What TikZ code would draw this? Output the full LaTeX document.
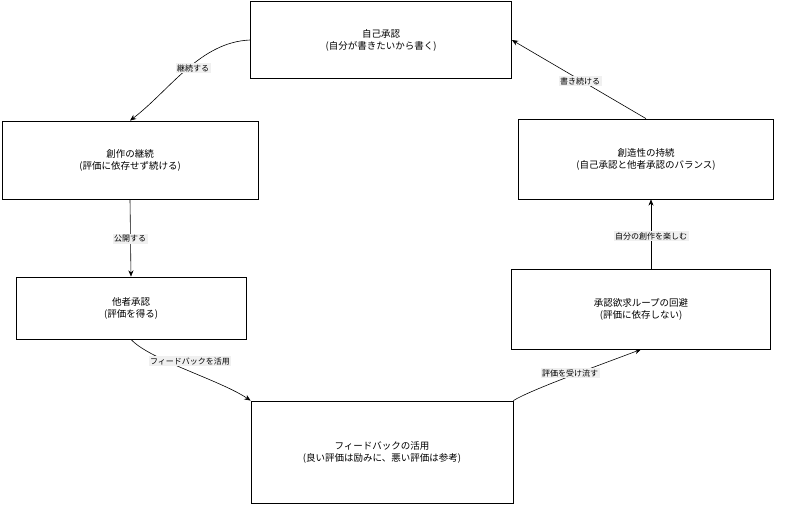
\documentclass[tikz,border=0pt]{standalone}
\usepackage{fontspec}
\setmainfont{Noto Sans CJK JP}
\usetikzlibrary{arrows.meta}
\begin{document}
\begin{tikzpicture}[x=1pt,y=-1pt,
    box/.style={draw, thick, fill=white, align=center, font=\fontsize{9.5}{12}\selectfont},
    lbl/.style={fill=gray!12, inner sep=1.5pt, font=\fontsize{8}{9}\selectfont},
    edge/.style={-{Stealth[length=2.2mm, width=1.8mm]}, semithick}]
        \useasboundingbox (0,0) rectangle (793,515);
        % Draw the boxes
        \node[box, minimum width=261pt, minimum height=77pt] (self) at (381,40) {自己承認\\(自分が書きたいから書く)};
        \node[box, minimum width=256pt, minimum height=78pt] (keep) at (130,160) {創作の継続\\(評価に依存せず続ける)};
        \node[box, minimum width=230pt, minimum height=62pt] (other) at (131,308) {他者承認\\(評価を得る)};
        \node[box, minimum width=262pt, minimum height=102pt] (fb) at (382,452) {フィードバックの活用\\(良い評価は励みに、悪い評価は参考)};
        \node[box, minimum width=259pt, minimum height=80pt] (avoid) at (641,309) {承認欲求ループの回避\\(評価に依存しない)};
        \node[box, minimum width=255pt, minimum height=80pt] (crea) at (646,159) {創造性の持続\\(自己承認と他者承認のバランス)};
        % Draw the connectors
        \draw[edge] (self.west) .. controls (200,42) and (170,90) .. (keep.north);
        \draw[edge] (keep.south) -- (other.north);
        \draw[edge] (other.south) .. controls (150,360) and (220,380) .. (fb.north west);
        \draw[edge] (fb.north east) .. controls (530,390) and (600,365) .. (avoid.south);
        \draw[edge] (avoid.north -| 651,0) -- (crea.south -| 651,0);
        \draw[edge] (crea.north) -- (self.east);
        % Draw the edge labels
        \node[lbl] (l1) at (193,68) {継続する};
        \node[lbl] (l2) at (130,239) {公開する};
        \node[lbl] (l3) at (190,361) {フィードバックを活用};
        \node[lbl] (l4) at (570,373) {評価を受け流す};
        \node[lbl] (l5) at (651,236) {自分の創作を楽しむ};
        \node[lbl] (l6) at (580,81) {書き続ける};
    \end{tikzpicture}
\end{document}
